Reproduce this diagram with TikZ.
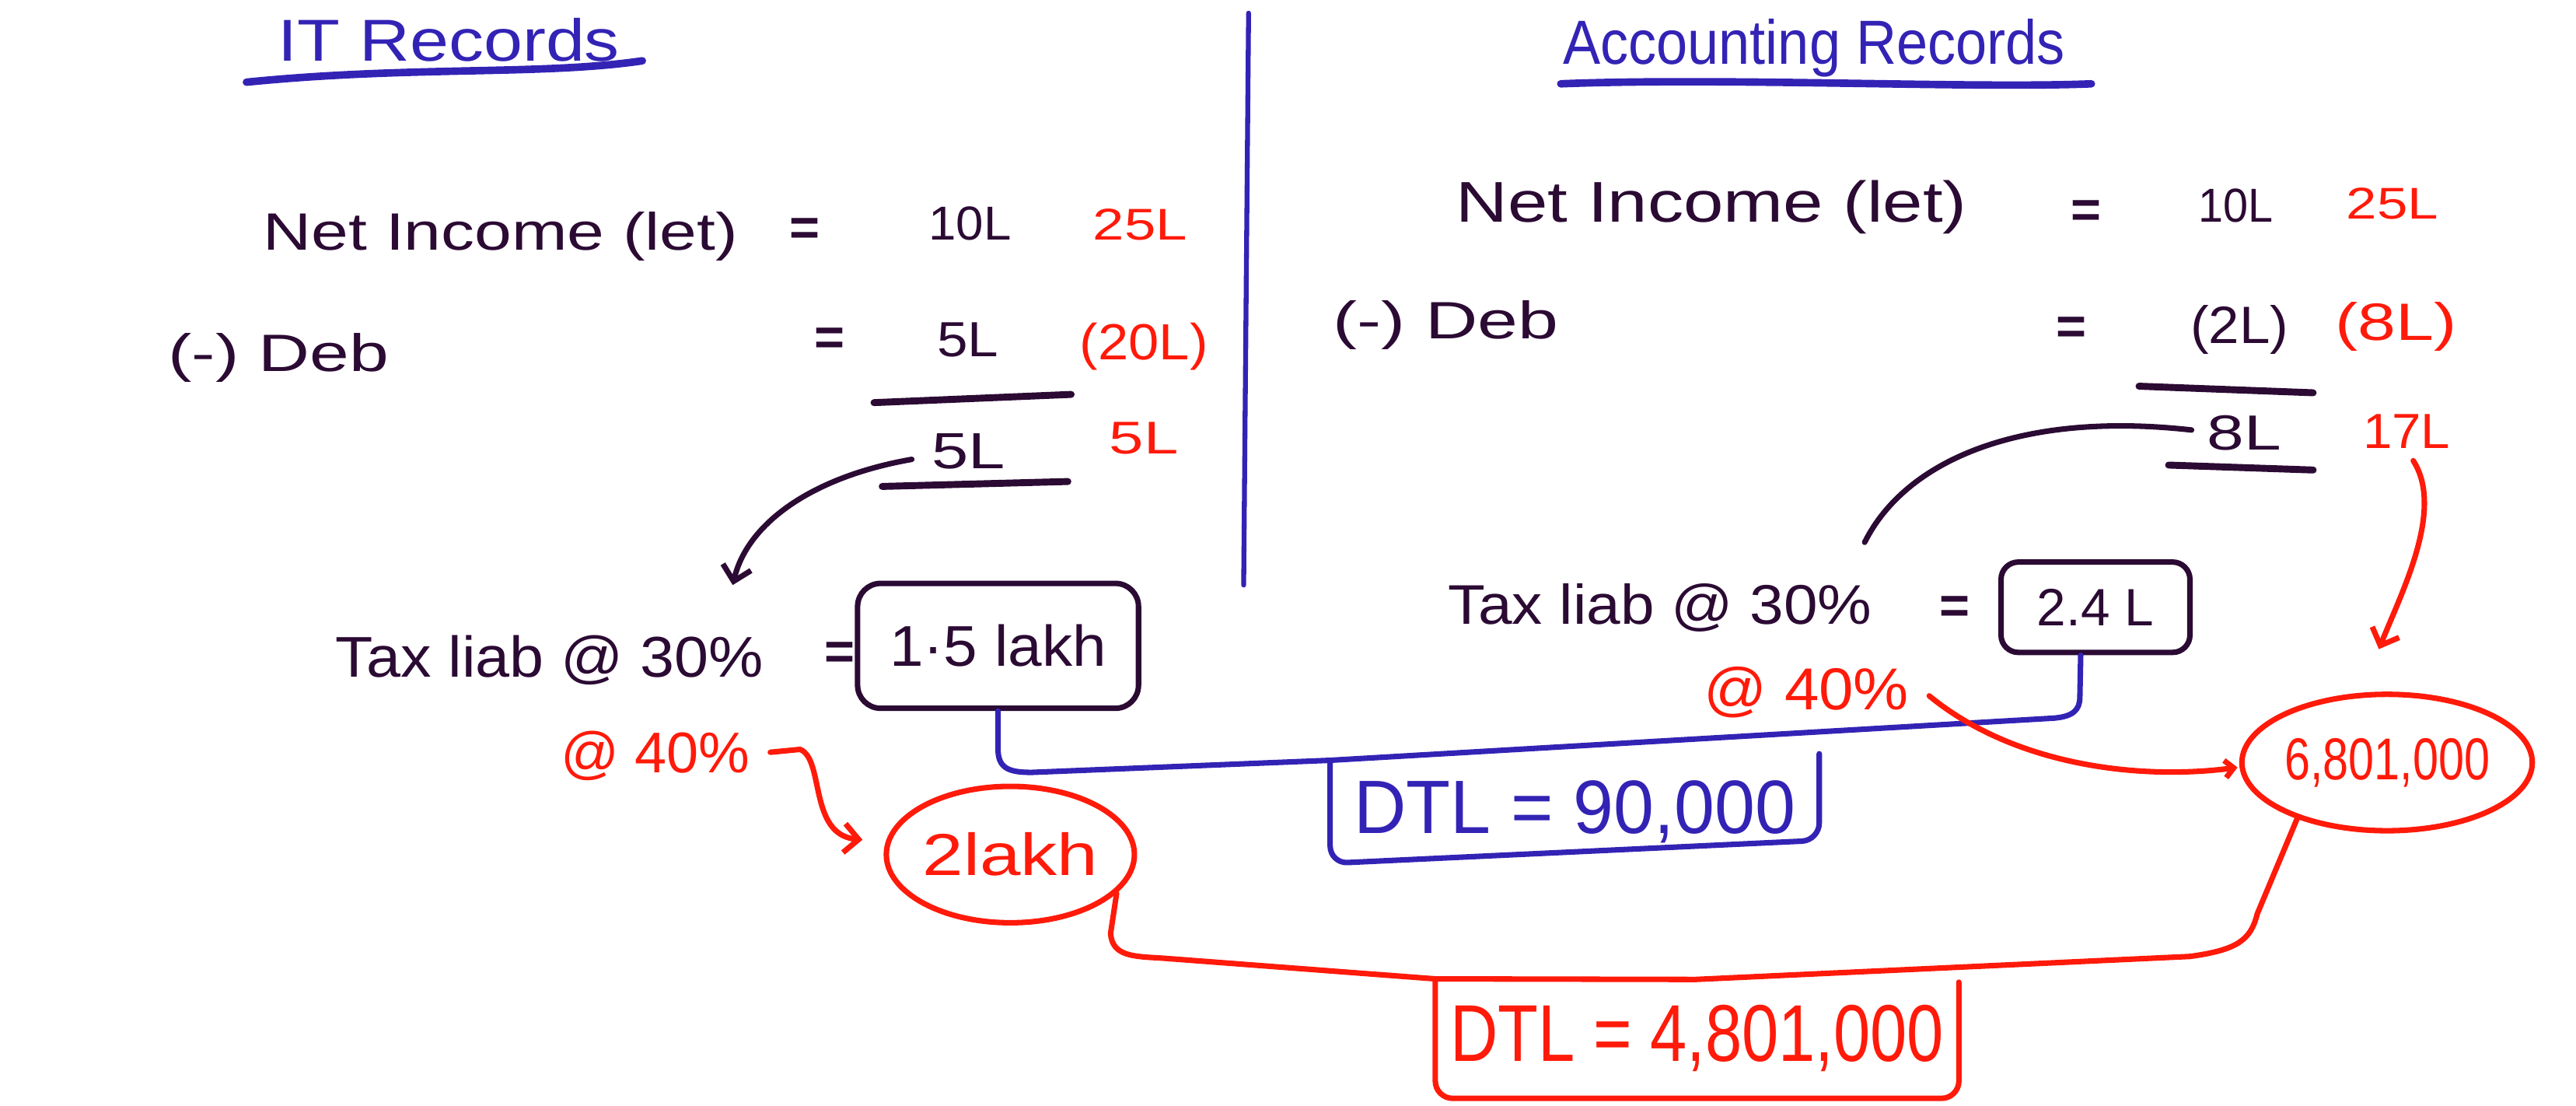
\documentclass[tikz,border=0pt]{standalone}
\usepackage{fontspec}
\setmainfont{Liberation Sans}
\usetikzlibrary{arrows.meta,shapes.geometric,calc}
\definecolor{ink}{HTML}{2B0A33}
\definecolor{bpen}{HTML}{3323B5}
\definecolor{rpen}{HTML}{FF1A0A}
\newcommand\hs[2]{\scalebox{#1}[1]{#2}}
\newcommand\fsz[1]{\fontsize{#1}{#1}\selectfont}
\begin{document}
\begin{tikzpicture}[x=0.02cm,y=-0.02cm,
  lbl/.style={inner sep=0pt, anchor=base west},
  dk/.style={text=ink}, bl/.style={text=bpen}, rd/.style={text=rpen},
  eqs/.style={inner sep=0pt, text=ink, font=\fsz{18}\bfseries},
  inkline/.style={draw=ink, line width=1.9pt, line cap=round},
  sumline/.style={draw=ink, line width=2.4pt, line cap=round},
  bline/.style={draw=bpen, line width=1.9pt, line cap=round, line join=round},
  rline/.style={draw=rpen, line width=1.9pt, line cap=round, line join=round},
  barb/.style={-{Straight Barb[length=5pt,width=10pt]}},
  smallbarb/.style={-{Straight Barb[length=3pt,width=6pt]}}]
\fill[white] (0,0) rectangle (1568,673);
\useasboundingbox (0,0) rectangle (1568,673);

% headings
\node[lbl,bl,font=\fsz{20.5}] (itrec) at (169,37) {\hs{1.18}{IT Records}};
\node[lbl,bl,font=\fsz{21.6}] (accrec) at (951,39) {\hs{0.90}{Accounting Records}};
\coordinate (u1a) at (150,50); \coordinate (u1b) at (391,37);
\coordinate (u2a) at (950,51); \coordinate (u2b) at (1273,51);
\draw[bline, line width=2.6pt] (u1a) .. controls (250,40) and (330,46) .. (u1b);
\draw[bline, line width=2.6pt] (u2a) .. controls (1050,47) and (1200,54) .. (u2b);

% separator
\coordinate (vtop) at (760,8); \coordinate (vbot) at (757,356);
\draw[bline, line width=1.7pt] (vtop) -- (vbot);

% left block
\node[lbl,dk,font=\fsz{18.2}] (niL) at (160,152) {\hs{1.27}{Net Income (let)}};
\node[eqs] (eqL1) at (490,141) {=};
\node[lbl,dk,font=\fsz{16.5}] (tenL) at (565,146) {\hs{1.04}{10L}};
\node[lbl,rd,font=\fsz{15.4}] (t25L) at (665,146) {\hs{1.27}{25L}};
\node[lbl,dk,font=\fsz{18.2}] (debL) at (102,226) {\hs{1.35}{(-) Deb}};
\node[eqs] (eqL2) at (505,208) {=};
\node[lbl,dk,font=\fsz{17.1}] (fiveL) at (570,217) {\hs{1.12}{5L}};
\node[lbl,rd,font=\fsz{17.6}] (t20L) at (657,219) {\hs{1.08}{(20L)}};
\node[lbl,dk,font=\fsz{17.6}] (sumL) at (567,285) {\hs{1.3}{5L}};
\node[lbl,rd,font=\fsz{15.9}] (r5L) at (675,276) {\hs{1.35}{5L}};
\coordinate (l1a) at (532,245); \coordinate (l1b) at (652,240);
\coordinate (l2a) at (537,296); \coordinate (l2b) at (650,293);
\draw[sumline] (l1a) -- (l1b);
\draw[sumline] (l2a) -- (l2b);

\node[lbl,dk,font=\fsz{19.9}] (taxL) at (204,412) {\hs{1.07}{Tax liab @ 30\%}};
\node[eqs] (eqL3) at (511,399) {=};
\node[draw=ink, line width=1.9pt, rounded corners=8pt, minimum width=171*0.02cm,
      minimum height=76*0.02cm, inner sep=0pt, text=ink, font=\fsz{19.9}] (box1) at (607.5,393) {\hs{1.06}{1·5 lakh}};
\node[lbl,rd,font=\fsz{19.9}] (at40L) at (341,470) {@ 40\%};
\node[ellipse, draw=rpen, line width=1.9pt, minimum width=144*0.02cm, minimum height=83*0.02cm,
      inner sep=0pt, text=rpen, font=\fsz{20.5}] (e1) at (615,520) {\hs{1.24}{2lakh}};

% right block
\node[lbl,dk,font=\fsz{19.9}] (niR) at (886,135) {\hs{1.25}{Net Income (let)}};
\node[eqs] (eqR1) at (1270,130) {=};
\node[lbl,dk,font=\fsz{16.5}] (tenR) at (1338,135) {\hs{0.94}{10L}};
\node[lbl,rd,font=\fsz{15.4}] (t25R) at (1428,133) {\hs{1.24}{25L}};
\node[lbl,dk,font=\fsz{18.2}] (debR) at (811,206) {\hs{1.38}{(-) Deb}};
\node[eqs] (eqR2) at (1261,201) {=};
\node[lbl,dk,font=\fsz{18.2}] (twoR) at (1333,209) {\hs{1.05}{(2L)}};
\node[lbl,rd,font=\fsz{18.2}] (t8R) at (1421,207) {\hs{1.3}{(8L)}};
\node[lbl,dk,font=\fsz{17.1}] (eightR) at (1343,274) {\hs{1.35}{8L}};
\node[lbl,rd,font=\fsz{17.1}] (t17R) at (1438,273) {\hs{1.06}{17L}};
\coordinate (r1a) at (1302,235); \coordinate (r1b) at (1408,239);
\coordinate (r2a) at (1320,283); \coordinate (r2b) at (1408,286);
\draw[sumline] (r1a) -- (r1b);
\draw[sumline] (r2a) -- (r2b);

\node[lbl,dk,font=\fsz{19.35}] (taxR) at (881,380) {\hs{1.09}{Tax liab @ 30\%}};
\node[eqs] (eqR3) at (1190,371) {=};
\node[draw=ink, line width=1.9pt, rounded corners=6pt, minimum width=115*0.02cm,
      minimum height=55*0.02cm, inner sep=0pt, text=ink, font=\fsz{18.2}] (box2) at (1275.5,369.5) {2.4 L};
\node[lbl,rd,font=\fsz{20.5}] (at40R) at (1037,432) {\hs{1.05}{@ 40\%}};
\node[ellipse, draw=rpen, line width=1.9pt, minimum width=165*0.02cm, minimum height=83*0.02cm,
      inner sep=0pt, text=rpen, font=\fsz{20.5}] (e2) at (1453,464) {\hs{0.78}{6,801,000}};

% DTL boxes
\node[inner sep=0pt, minimum width=297*0.02cm, minimum height=62*0.02cm, text=bpen,
      font=\fsz{26.2}] (dtlb) at (958.5,494) {\hs{0.96}{DTL = 90,000}};
\node[inner sep=0pt, minimum width=318*0.02cm, minimum height=72*0.02cm, text=rpen,
      font=\fsz{27.9}] (dtlr) at (1033,632) {\hs{0.82}{DTL = 4,801,000}};
\draw[bline, rounded corners=6pt] (dtlb.north west) -- (dtlb.south west)
   -- ($(dtlb.south east)+(0,-14)$) -- ($(dtlb.north east)+(0,-4)$);
\draw[rline, rounded corners=6pt] (dtlr.north west) -- (dtlr.south west)
   -- (dtlr.south east) -- ($(dtlr.north east)+(0,2)$);

% connectors
\coordinate (tipL) at (446,356);
\draw[inkline, barb] ($(sumL.west)+(-12,5)$) .. controls (495,290) and (455,318) .. (tipL);
\coordinate (endR) at (1135,330);
\draw[inkline] ($(eightR.west)+(-9,-2)$) .. controls (1230,250) and (1160,280) .. (endR);

\draw[bline] (box1.south) -- (607.5,457) .. controls (608,468) and (615,470) .. (628,470)
   -- (dtlb.north west) -- (1250,437) .. controls (1262,436) and (1266,432) .. (1266,424)
   -- ($(box2.south)+(-9,0)$);

\coordinate (tip17) at (1448,395);
\draw[rline, barb] ($(t17R.south)+(4,7)$) .. controls (1488,310) and (1462,360) .. (tip17);
\draw[rline, smallbarb] ($(at40R.east)+(12,2)$) .. controls (1225,465) and (1300,475) .. ($(e2.west)+(-1,3)$);
\coordinate (tip1) at (525,511);
\draw[rline, barb] ($(at40L.east)+(12,-2)$) -- (487,456) .. controls (502,462) and (492,508) .. (tip1);

\draw[rline] (e1.-20) -- (676,568) .. controls (677,582) and (690,582) .. (707,583)
   -- (dtlr.north west) -- (1032,596) -- (1333,582) .. controls (1362,578) and (1370,572) .. (1374,556)
   -- (e2.-148);
\end{tikzpicture}
\end{document}
